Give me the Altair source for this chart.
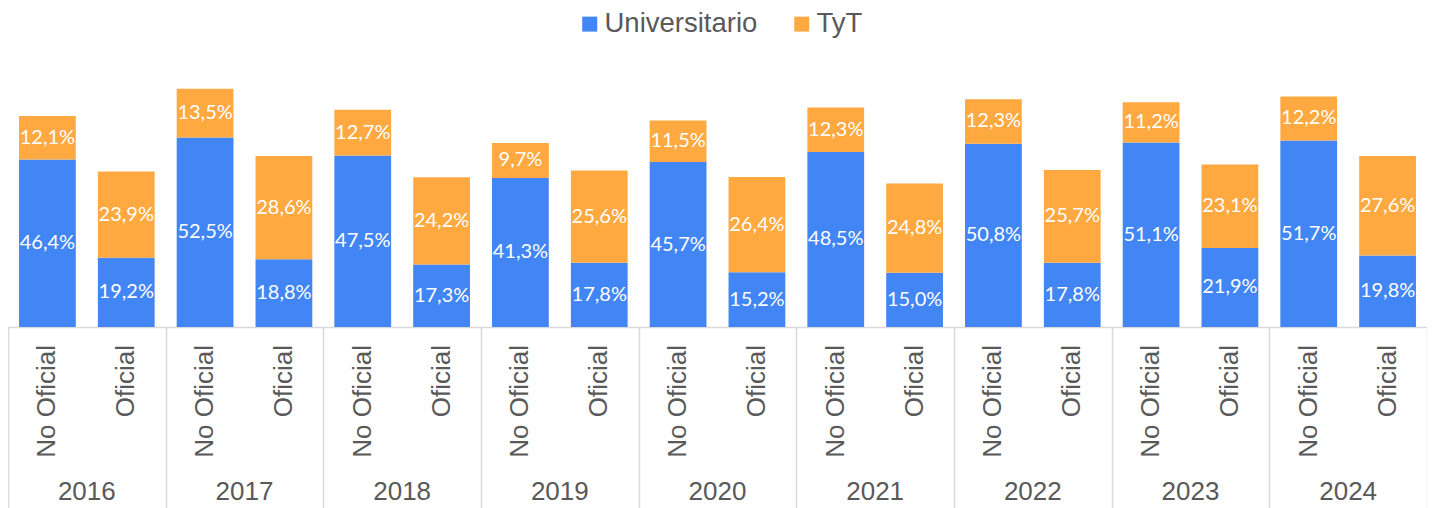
import altair as alt
import pandas as pd

years = ["2016", "2017", "2018", "2019", "2020", "2021", "2022", "2023", "2024"]
categories = ["No Oficial", "Oficial"]
series = ["Universitario", "TyT"]
colors = ["#4285F4", "#FFA940"]

# values per year: [No Oficial, Oficial]
universitario = [
    [46.4, 19.2], [52.5, 18.8], [47.5, 17.3], [41.3, 17.8], [45.7, 15.2],
    [48.5, 15.0], [50.8, 17.8], [51.1, 21.9], [51.7, 19.8],
]
tyt = [
    [12.1, 23.9], [13.5, 28.6], [12.7, 24.2], [9.7, 25.6], [11.5, 26.4],
    [12.3, 24.8], [12.3, 25.7], [11.2, 23.1], [12.2, 27.6],
]

rows = []
for i, y in enumerate(years):
    for j, c in enumerate(categories):
        for k, (s, vals) in enumerate(zip(series, [universitario, tyt])):
            v = vals[i][j]
            rows.append({
                "year": y, "cat": c, "serie": s, "order": k, "value": v,
                "label": f"{v:.1f}%".replace(".", ","),
            })
df = pd.DataFrame(rows)
cat_df = pd.DataFrame([{"year": y, "cat": c} for y in years for c in categories])
year_df = pd.DataFrame({"year": years})

H = 319
W = 1419
x_scale = alt.Scale(domain=years, paddingInner=0, paddingOuter=0)
xo_scale = alt.Scale(domain=categories, paddingInner=0.28, paddingOuter=0.14)
y_scale = alt.Scale(domain=[0, 88.4], nice=False, zero=True)

x_axis = alt.Axis(
    title=None, labels=False, domain=True, domainColor="#d9d9d9", domainWidth=1.5,
    ticks=True, tickBand="extent", tickSize=185, tickColor="#d9d9d9", tickWidth=1.5,
    grid=False,
)

base = alt.Chart(df).transform_stack(
    stack="value", groupby=["year", "cat"], as_=["y0", "y1"],
    sort=[alt.SortField("order", order="ascending")],
).transform_calculate(mid="(datum.y0 + datum.y1) / 2")

bars = base.mark_bar().encode(
    x=alt.X("year:N", scale=x_scale, axis=x_axis),
    xOffset=alt.XOffset("cat:N", scale=xo_scale),
    y=alt.Y("y0:Q", scale=y_scale, axis=None),
    y2="y1:Q",
    color=alt.Color(
        "serie:N",
        scale=alt.Scale(domain=series, range=colors),
        legend=alt.Legend(
            title=None, orient="none", legendX=568, legendY=2, direction="horizontal",
            symbolType="square", symbolSize=225, symbolStrokeWidth=0,
            labelFontSize=27.5, labelFont="Liberation Sans", labelColor="#595959",
            labelOffset=1, columnPadding=30, padding=0, labelLimit=400,
        ),
    ),
)

labels = base.mark_text(
    color="white", fontSize=20, font="Lato", baseline="middle", align="center",
).encode(
    x=alt.X("year:N", scale=x_scale),
    xOffset=alt.XOffset("cat:N", scale=xo_scale),
    y=alt.Y("mid:Q", scale=y_scale),
    text="label:N",
)

cat_labels = alt.Chart(cat_df).mark_text(
    angle=270, align="right", baseline="middle", fontSize=26,
    font="Liberation Sans", color="#595959",
).encode(
    x=alt.X("year:N", scale=x_scale),
    xOffset=alt.XOffset("cat:N", scale=xo_scale),
    y=alt.value(H + 18),
    text="cat:N",
)

year_labels = alt.Chart(year_df).mark_text(
    align="center", baseline="middle", fontSize=26,
    font="Liberation Sans", color="#595959",
).encode(
    x=alt.X("year:N", scale=x_scale),
    y=alt.value(H + 165),
    text="year:N",
)

chart = alt.layer(bars, labels, cat_labels, year_labels).properties(
    width=W, height=H,
    padding={"left": 0, "top": 0, "right": 0, "bottom": 181},
    autosize=alt.AutoSizeParams(type="none"),
).configure_view(stroke=None)

chart.save("out.html", embed_options={"renderer": "svg", "actions": False})
